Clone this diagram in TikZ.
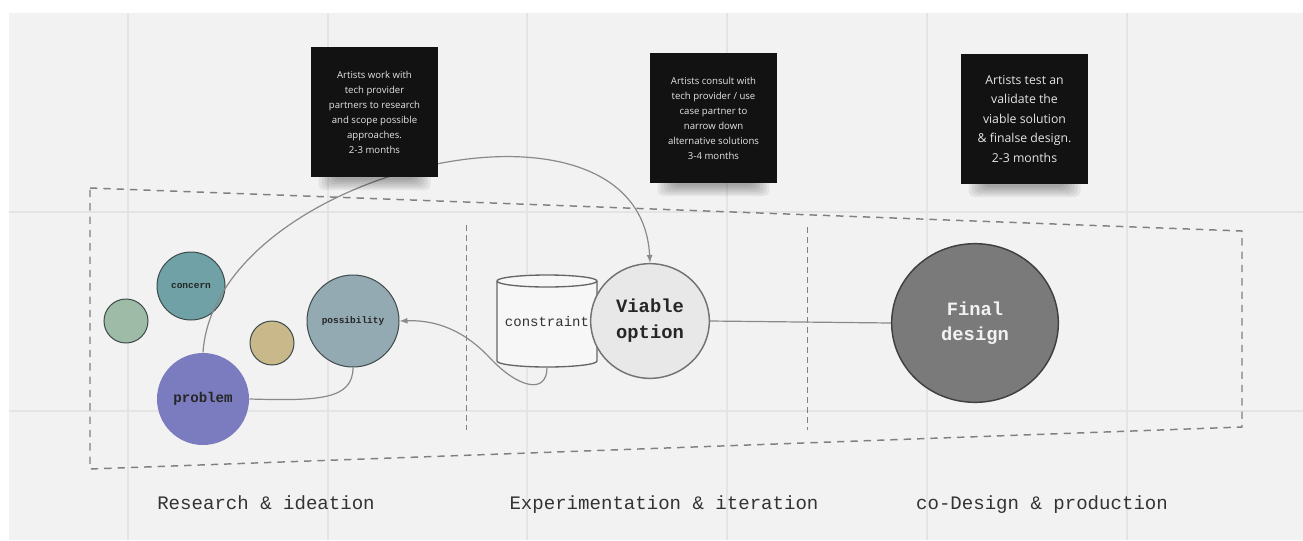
\documentclass[tikz,border=0pt]{standalone}
\usepackage{fontspec}
\usepackage{tikz}
\usetikzlibrary{arrows.meta,shapes.geometric}
\newfontfamily\notefont{Open Sans}
\newfontfamily\codefont{Liberation Mono}
\definecolor{figbg}{HTML}{F2F2F2}
\definecolor{figgrid}{HTML}{E4E4E4}
\definecolor{figdash}{HTML}{808080}
\definecolor{figlink}{HTML}{8A8A8A}
\definecolor{figsage}{HTML}{9DBBA6}
\definecolor{figteal}{HTML}{6FA1A7}
\definecolor{figsand}{HTML}{C8B88A}
\definecolor{figslate}{HTML}{93AAB3}
\definecolor{figviolet}{HTML}{7B7BBF}
\definecolor{figlight}{HTML}{E8E8E8}
\definecolor{figdark}{HTML}{7A7A7A}
\definecolor{figink}{HTML}{333333}
\definecolor{figedge}{HTML}{3E4A4A}

\begin{document}
\begin{tikzpicture}[x=0.75pt,y=-0.75pt,
  bubble/.style={circle,draw=figedge,line width=0.75pt,inner sep=0pt,text=black!85,
    font=\codefont\bfseries\fontsize{7.1}{8}\selectfont},
  note/.style={fill=black!93,text=white!90!black,align=center,inner sep=0pt,
    minimum width=95pt,minimum height=97.5pt,
    font=\notefont\fontsize{7.2}{11.25}\selectfont},
  link/.style={draw=figlink,line width=0.9pt},
  tip/.style={-{Latex[length=6pt,width=4.5pt]}},
  phase/.style={anchor=base,font=\codefont\fontsize{14.3}{17}\selectfont,text=figink}]
\useasboundingbox (0,0) rectangle (1303,540);
\fill[white] (0,0) rectangle (1303,540);
\fill[figbg] (9,13) rectangle (1303,540);
% board grid
\foreach \gx in {128,328,527,727,927,1127}
  \draw[figgrid,line width=1.5pt] (\gx,13) -- (\gx,540);
\foreach \gy in {212,411}
  \draw[figgrid,line width=1.5pt] (9,\gy) -- (1303,\gy);
% funnel frame and phase splits
\draw[figdash,line width=1.1pt,dash pattern=on 5.5pt off 4.5pt]
  (90,188) -- (1242,231) -- (1242,427) -- (90,469) -- cycle;
\draw[figdash,line width=0.75pt,dash pattern=on 4.5pt off 3pt] (466,225) -- (466,430);
\draw[figdash,line width=0.75pt,dash pattern=on 4.5pt off 3pt] (807,227) -- (807,430);

% research bubbles
\node[bubble,fill=figsage,minimum size=33pt] (seed) at (126,321) {};
\node[bubble,fill=figteal,minimum size=51pt] (concern) at (191,286) {concern};
\node[bubble,fill=figsand,minimum size=33pt] (hunch) at (272,343) {};
\node[bubble,fill=figslate,minimum size=69pt] (possibility) at (353,321) {possibility};
\node[bubble,draw=none,fill=figviolet,minimum size=69pt,
  font=\codefont\bfseries\fontsize{10.6}{12}\selectfont] (problem) at (203,399) {problem};

% constraint drum
\filldraw[figbg!60!white,draw=black!60,line width=1pt]
  (497,281) -- (497,361) arc[start angle=180,end angle=360,x radius=37.5pt,y radius=4.5pt]
  -- (597,281) arc[start angle=0,end angle=180,x radius=37.5pt,y radius=4.5pt] -- cycle;
\draw[black!60,line width=1pt]
  (497,281) arc[start angle=180,end angle=360,x radius=37.5pt,y radius=4.5pt];
\node[minimum width=75pt,minimum height=69pt,inner sep=0pt,text=figink,
  font=\codefont\fontsize{10.5}{12}\selectfont] (cons) at (547,321) {constraint};

\node[ellipse,draw=black!55,line width=1.1pt,fill=figlight,minimum width=89pt,
  minimum height=86pt,inner sep=0pt,align=center,text=black!85,
  font=\codefont\bfseries\fontsize{14.1}{19.5}\selectfont] (viable) at (650,321) {Viable\\option};
\node[ellipse,draw=black!75,line width=1.1pt,fill=figdark,minimum width=125pt,
  minimum height=119pt,inner sep=0pt,align=center,text=white!95!black,
  font=\codefont\bfseries\fontsize{14.1}{19}\selectfont] (final) at (975,323) {Final\\design};

% links
\coordinate (bend) at (490,358);
\draw[link,tip] (problem.north) .. controls (215,170) and (640,70) .. (viable.north);
\draw[link] (problem.east) .. controls +(70,2) and +(0,32) .. (possibility.south);
\draw[link,tip] (cons.south) .. controls (547,395) and (518,388) .. (bend)
  .. controls (460,326) and (430,320) .. (possibility.east);
\draw[link] (viable.east) -- (final.west);

% soft shadows under the sticky notes
\foreach \nx/\ny in {374.5/177,713.5/183,1024.5/184}
  \foreach \k in {0,...,5}
    \fill[black,opacity=0.06,rounded corners=4pt]
      (\nx-56+3*\k,\ny-20) rectangle (\nx+56-3*\k,\ny+13-2*\k);

% sticky notes
\node[note] (scope) at (374.5,112) {Artists work with\\tech provider\\partners to research\\and scope possible\\approaches.\\2-3 months};
\node[note] (narrow) at (713.5,118) {Artists consult with\\tech provider / use\\case partner to\\narrow down\\alternative solutions\\3-4 months};
\node[note,font=\notefont\fontsize{9.2}{14.6}\selectfont] (validate) at (1024.5,119)
  {Artists test an\\validate the\\viable solution\\\& finalse design.\\2-3 months};

% phase captions
\node[phase] (research) at (266,509) {Research \& ideation};
\node[phase] (experiment) at (664,509) {Experimentation \& iteration};
\node[phase] (production) at (1042,509) {co-Design \& production};
\end{tikzpicture}
\end{document}
